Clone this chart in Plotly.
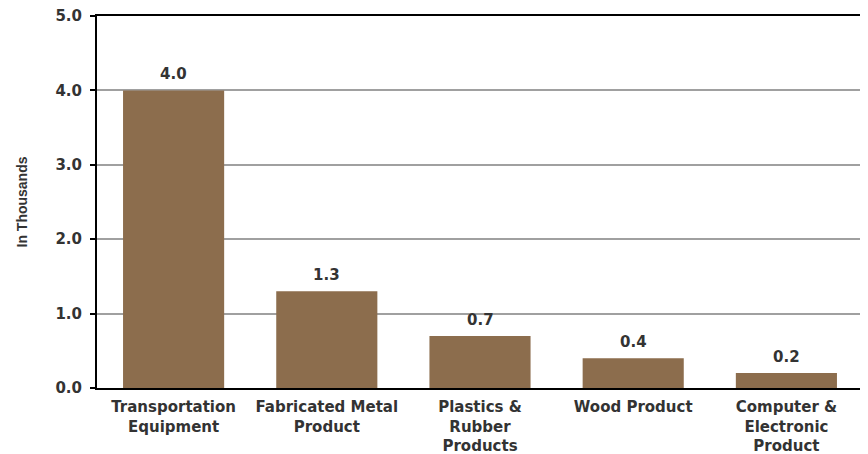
import plotly.graph_objects as go

categories = ["Transportation<br>Equipment", "Fabricated Metal<br>Product",
              "Plastics &<br>Rubber<br>Products", "Wood Product",
              "Computer &<br>Electronic<br>Product"]
values = [4.0, 1.3, 0.7, 0.4, 0.2]
value_labels = ["4.0", "1.3", "0.7", "0.4", "0.2"]
y_ticks = [0, 1, 2, 3, 4, 5]
y_tick_labels = ["0.0", "1.0", "2.0", "3.0", "4.0", "5.0"]

wide_font = "DejaVu Sans, Verdana, sans-serif"
narrow_font = "Liberation Sans, Arial, sans-serif"
text_color = "#333333"

fig = go.Figure()
fig.add_trace(go.Bar(
    x=categories, y=values,
    marker=dict(color="#8C6D4D", line=dict(width=0)),
    hoverinfo="skip",
))

for c, v, t in zip(categories, values, value_labels):
    fig.add_annotation(x=c, y=v, text="<b>%s</b>" % t, showarrow=False,
                       yanchor="bottom", yshift=5,
                       font=dict(family=wide_font, size=15, color=text_color))

# page body has an 8px offset, so margins are shifted to keep the plot area in place
fig.update_layout(
    width=868, height=454,
    margin=dict(l=89, r=13, t=8, b=74),
    paper_bgcolor="white", plot_bgcolor="white",
    bargap=0.34,
    showlegend=False,
    font=dict(family=wide_font, color=text_color),
)
fig.update_xaxes(
    automargin=False,
    showline=True, linecolor="black", linewidth=2, mirror=True,
    showgrid=False, ticks="",
    ticklabelstandoff=4,
    tickfont=dict(family=wide_font, size=15, color=text_color),
    tickprefix="<b>", ticksuffix="</b>",
)
fig.update_yaxes(
    automargin=False,
    range=[0, 5], tickvals=y_ticks, ticktext=["<b>%s</b>" % s for s in y_tick_labels],
    showline=True, linecolor="black", linewidth=2, mirror=True,
    showgrid=True, gridcolor="#A0A0A0", gridwidth=1.5,
    ticks="outside", ticklen=5, tickcolor="black", tickwidth=1.5,
    ticklabelstandoff=5, ticklabeloverflow="allow",
    tickfont=dict(family=wide_font, size=15, color=text_color),
    title=dict(text="<b>In Thousands</b>", font=dict(family=narrow_font, size=14, color=text_color), standoff=25),
    zeroline=False,
)

fig.write_html("out.html")
